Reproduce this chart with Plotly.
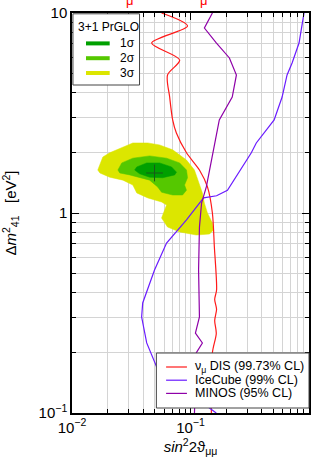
import plotly.graph_objects as go

# ---- data ----
# nu_mu DIS (99.73% CL)
dis_x = [0.057, 0.0944, 0.047, 0.081, 0.064, 0.0667, 0.0707, 0.076, 0.0925, 0.119, 0.139,
         0.153, 0.159, 0.166, 0.160, 0.166, 0.160, 0.165, 0.153, 0.150]
dis_y = [10, 8.61, 7.08, 5.82, 4.9, 3.8, 2.92, 2.51, 2.0, 1.64, 1.35,
         1.0, 0.676, 0.412, 0.37, 0.33, 0.29, 0.25, 0.2, 0.1]

# IceCube (99% CL)
ice_x = [0.908, 0.824, 0.72, 0.653, 0.593, 0.508, 0.359, 0.326, 0.205, 0.166, 0.129,
         0.0925, 0.0628, 0.0497, 0.0395, 0.0387, 0.0427, 0.0518, 0.09, 0.165]
ice_y = [10, 7.08, 5.62, 4.9, 3.8, 2.92, 2.24, 2.0, 1.30, 1.22, 1.19,
         0.923, 0.708, 0.519, 0.355, 0.302, 0.224, 0.170, 0.13, 0.1]

# MINOS (95% CL)
minos_x = [0.153, 0.131, 0.165, 0.213, 0.244, 0.225, 0.175, 0.153, 0.136, 0.124, 0.119,
           0.117, 0.119, 0.110, 0.126, 0.112, 0.110, 0.108]
minos_y = [10, 8.41, 7.08, 5.96, 4.9, 3.8, 2.92, 1.905, 1.35, 1.12, 0.85,
           0.52, 0.302, 0.251, 0.224, 0.2, 0.15, 0.1]

# 3+1 PrGLO allowed regions
s3_x = [0.0165, 0.0182, 0.0208, 0.0269, 0.0326, 0.0436, 0.0548, 0.0707, 0.0925, 0.108, 0.119,
        0.126, 0.131, 0.139, 0.153, 0.156, 0.145, 0.112, 0.081, 0.064, 0.057, 0.0605, 0.0628,
        0.057, 0.0436, 0.0352, 0.0326, 0.0269, 0.0208, 0.0172]
s3_y = [1.64, 1.905, 2.0, 2.14, 2.24, 2.24, 2.19, 2.07, 1.84, 1.64, 1.41,
        1.26, 1.12, 1.0, 0.891, 0.822, 0.785, 0.776, 0.804, 0.851, 0.944, 1.035, 1.096,
        1.135, 1.19, 1.26, 1.38, 1.46, 1.51, 1.585]

s2_x = [0.0244, 0.0263, 0.0326, 0.0452, 0.0628, 0.081, 0.0925, 0.0944, 0.0891, 0.0925,
        0.0857, 0.0707, 0.057, 0.0528, 0.0452, 0.0372, 0.0307, 0.0253]
s2_y = [1.64, 1.78, 1.88, 1.93, 1.88, 1.78, 1.64, 1.50, 1.38, 1.30,
        1.23, 1.23, 1.27, 1.35, 1.46, 1.51, 1.55, 1.585]

s1_x = [0.0338, 0.0352, 0.0427, 0.0548, 0.0692, 0.0762, 0.0735, 0.0582, 0.0452, 0.0372]
s1_y = [1.64, 1.70, 1.78, 1.78, 1.70, 1.60, 1.55, 1.50, 1.51, 1.57]

best_x = [0.0497]
best_y = [1.585]

x_tickvals = [0.01, 0.1, 1]
x_ticktext = ["10<sup>\u22122</sup>", "10<sup>\u22121</sup>", "1"]
y_tickvals = [0.1, 1, 10]
y_ticktext = ["10<sup>\u22121</sup>", "1", "10"]
x_minor = [m * d for d in (0.01, 0.1) for m in range(2, 10)]
y_minor = [m * d for d in (0.1, 1) for m in range(2, 10)]

region_title = "3+1 PrGLO"
region_names = ["1\u03c3", "2\u03c3", "3\u03c3"]
curve_names = ["\u03bd<sub>\u03bc</sub> DIS (99.73% CL)", "IceCube (99% CL)", "MINOS (95% CL)"]

C3, C2, C1 = "#dce600", "#55c800", "#00a000"
RED, BLUE, PURPLE = "#ff1a1a", "#6a1bff", "#8e00a8"
region_cols = [C1, C2, C3]
curve_cols = [RED, BLUE, PURPLE]

fig = go.Figure()

for xs, ys, col in [(s3_x, s3_y, C3), (s2_x, s2_y, C2), (s1_x, s1_y, C1)]:
    fig.add_trace(go.Scatter(x=xs + xs[:1], y=ys + ys[:1], mode="lines", fill="toself",
                             fillcolor=col, line=dict(color=col, width=0.5),
                             showlegend=False, hoverinfo="skip"))

fig.add_trace(go.Scatter(x=best_x, y=best_y, mode="markers",
                         marker=dict(symbol="cross-thin", size=12, line=dict(color="#1a5a1a", width=1)),
                         showlegend=False))

fig.add_trace(go.Scatter(x=dis_x, y=dis_y, mode="lines", name=curve_names[0],
                         line=dict(color=RED, width=1.2, shape="spline", smoothing=0.8)))
fig.add_trace(go.Scatter(x=ice_x, y=ice_y, mode="lines", name=curve_names[1],
                         line=dict(color=BLUE, width=1.2)))
fig.add_trace(go.Scatter(x=minos_x, y=minos_y, mode="lines", name=curve_names[2],
                         line=dict(color=PURPLE, width=1.2)))

font_family = "Liberation Sans, Arial, sans-serif"
axis_common = dict(type="log", showgrid=True, gridcolor="#d4d4d4", gridwidth=1,
                   showline=True, linecolor="black", linewidth=1.5, mirror="allticks",
                   ticks="inside", ticklen=7, tickcolor="black", zeroline=False,
                   tickfont=dict(size=15, color="black", family=font_family))

fig.update_layout(
    width=312, height=464,
    margin=dict(l=72, r=1, t=13, b=51),
    paper_bgcolor="white", plot_bgcolor="white",
    font=dict(family=font_family, color="black"),
    showlegend=False,
    xaxis=dict(axis_common, range=[-2, 0], tickvals=x_tickvals, ticktext=x_ticktext,
               minor=dict(tickvals=x_minor, showgrid=True, gridcolor="#d4d4d4", ticks="inside",
                          ticklen=4, tickcolor="black"),
               title=dict(text="<i>sin</i><sup>2</sup>2\u03d1<sub>\u03bc\u03bc</sub>",
                          font=dict(size=15), standoff=6)),
    yaxis=dict(axis_common, range=[-1, 1], tickvals=y_tickvals, ticktext=y_ticktext,
               minor=dict(tickvals=y_minor, showgrid=True, gridcolor="#d4d4d4", ticks="inside",
                          ticklen=4, tickcolor="black"),
               title=dict(text="\u0394<i>m</i><sup>2</sup><sub>41</sub>   [eV<sup>2</sup>]",
                          font=dict(size=15), standoff=18)),
)

# ---- legend 1 (regions), drawn in paper coordinates ----
fig.add_shape(type="rect", xref="paper", yref="paper", x0=0.004, x1=0.285, y0=0.82, y1=0.998,
              fillcolor="white", line=dict(color="#444", width=1), layer="above")
fig.add_annotation(text=region_title, xref="paper", yref="paper", x=0.017, y=0.965,
                   xanchor="left", yanchor="middle", showarrow=False, font=dict(size=12))
for i, (nm, col) in enumerate(zip(region_names, region_cols)):
    yy = 0.924 - i * 0.037
    fig.add_shape(type="line", xref="paper", yref="paper", x0=0.059, x1=0.159, y0=yy, y1=yy,
                  line=dict(color=col, width=4), layer="above")
    fig.add_annotation(text=nm, xref="paper", yref="paper", x=0.193, y=yy,
                       xanchor="left", yanchor="middle", showarrow=False, font=dict(size=12))

# ---- legend 2 (curves) ----
fig.add_shape(type="rect", xref="paper", yref="paper", x0=0.356, x1=1.0, y0=0.0125, y1=0.15,
              fillcolor="white", line=dict(color="#444", width=1), layer="above")
for i, (nm, col) in enumerate(zip(curve_names, curve_cols)):
    yy = 0.115 - i * 0.033
    fig.add_shape(type="line", xref="paper", yref="paper", x0=0.397, x1=0.485, y0=yy, y1=yy,
                  line=dict(color=col, width=1.2), layer="above")
    fig.add_annotation(text=nm, xref="paper", yref="paper", x=0.512, y=yy,
                       xanchor="left", yanchor="middle", showarrow=False, font=dict(size=12.5))

# partially visible red labels above the frame
for xp in [0.22, 0.555]:
    fig.add_annotation(text="\u03bc", x=xp, y=1.0, xref="paper", yref="paper",
                       yanchor="middle", yshift=13, showarrow=False, font=dict(color="red", size=13))

fig.write_html("out.html", config={"displayModeBar": False},
               post_script="document.body.style.margin='0';")
